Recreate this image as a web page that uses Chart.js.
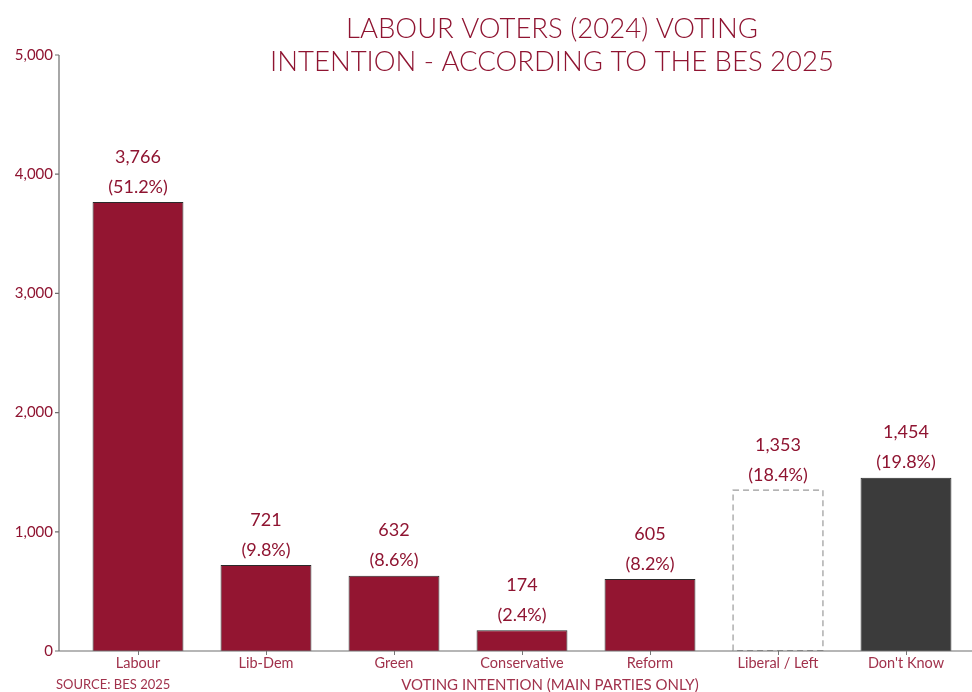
<!DOCTYPE html>
<html>
<head>
<meta charset="utf-8">
<script src="https://cdn.jsdelivr.net/npm/chart.js@4.4.1/dist/chart.umd.min.js"></script>
<style>
  html, body { margin: 0; padding: 0; background: #fff; }
  #wrap { width: 972px; height: 692px; }
</style>
</head>
<body>
<div id="wrap"><canvas id="besChart" width="972" height="692"></canvas></div>
<script>
// --- data ---
const parties = ["Labour", "Lib-Dem", "Green", "Conservative", "Reform", "Liberal / Left", "Don't Know"];
const voters = [3766, 721, 632, 174, 605, 1353, 1454];
const shares = [51.2, 9.8, 8.6, 2.4, 8.2, 18.4, 19.8]; // % as printed on the chart
const yTickValues = [0, 1000, 2000, 3000, 4000, 5000];
const titleLines = ["LABOUR VOTERS (2024) VOTING", "INTENTION - ACCORDING TO THE BES 2025"];
const xAxisTitle = "VOTING INTENTION (MAIN PARTIES ONLY)";
const sourceNote = "SOURCE: BES 2025";

const RED = "#8f1431";
const BAR_RED = "#931531";
const FONT = "Lato, 'Open Sans', sans-serif";

const barColours = parties.map(function (p) {
  if (p === "Liberal / Left") return "#ffffff";
  if (p === "Don't Know") return "#3b3b3b";
  return BAR_RED;
});
const borderWidths = parties.map(function (p) { return p === "Liberal / Left" ? 0 : 1; });

// axis lines, value labels, dashed bar, titles
const decorations = {
  id: "decorations",
  afterDatasetsDraw: function (chart) {
    const ctx = chart.ctx;
    const area = chart.chartArea;
    const y = chart.scales.y;
    const axisX = area.left - 15;
    const meta = chart.getDatasetMeta(0);

    ctx.save();
    // dashed outline for Liberal / Left
    meta.data.forEach(function (bar, i) {
      if (parties[i] !== "Liberal / Left") return;
      const half = bar.width / 2;
      ctx.setLineDash([6, 4]);
      ctx.strokeStyle = "#9a9a9a";
      ctx.lineWidth = 1.2;
      ctx.strokeRect(bar.x - half + 0.5, bar.y + 0.5, bar.width - 1, bar.base - bar.y - 1);
      ctx.setLineDash([]);
    });

    // axes
    ctx.strokeStyle = "#6e6e6e";
    ctx.lineWidth = 1.2;
    ctx.beginPath();
    ctx.moveTo(axisX, y.getPixelForValue(5000));
    ctx.lineTo(axisX, y.getPixelForValue(0));
    ctx.lineTo(chart.width, y.getPixelForValue(0));
    yTickValues.forEach(function (v) {
      const py = y.getPixelForValue(v);
      ctx.moveTo(axisX - 4, py);
      ctx.lineTo(axisX, py);
    });
    ctx.stroke();

    // value labels
    ctx.fillStyle = RED;
    ctx.textAlign = "center";
    ctx.textBaseline = "middle";
    ctx.font = "18px " + FONT;
    meta.data.forEach(function (bar, i) {
      ctx.fillText(voters[i].toLocaleString("en-US"), bar.x, bar.y - 45);
      ctx.fillText("(" + shares[i].toFixed(1) + "%)", bar.x, bar.y - 15);
    });

    // title
    ctx.textBaseline = "alphabetic";
    ctx.font = "300 27.5px " + FONT;
    ctx.fillText(titleLines[0], 552, 38);
    ctx.fillText(titleLines[1], 552, 71);

    // axis title and source
    ctx.fillStyle = "#a1324c";
    ctx.font = "15px " + FONT;
    ctx.fillText(xAxisTitle, 550, 690);
    ctx.textAlign = "left";
    ctx.font = "13px " + FONT;
    ctx.fillText(sourceNote, 56, 689);
    ctx.restore();
  }
};

new Chart(document.getElementById("besChart"), {
  type: "bar",
  data: {
    labels: parties,
    datasets: [{
      data: voters,
      backgroundColor: barColours,
      borderColor: "#2a2a2a",
      borderWidth: borderWidths,
      categoryPercentage: 1,
      barPercentage: 0.71
    }]
  },
  options: {
    responsive: false,
    animation: false,
    devicePixelRatio: 1,
    layout: { padding: { top: 55, right: 2, bottom: 0, left: 0 } },
    plugins: {
      legend: { display: false },
      title: { display: false },
      tooltip: { enabled: false }
    },
    scales: {
      x: {
        border: { display: false },
        grid: { offset: false, drawOnChartArea: false, drawTicks: true, tickLength: 4, color: "#777" },
        ticks: { color: "#a1324c", font: { family: FONT, size: 14.5 }, padding: 0, maxRotation: 0 },
        afterFit: function (scale) { scale.height = 41; }
      },
      y: {
        min: 0,
        max: 5000,
        border: { display: false },
        grid: { display: false, drawTicks: false },
        ticks: {
          stepSize: 1000,
          padding: 21,
          color: RED,
          font: { family: FONT, size: 15 },
          callback: function (v) { return v.toLocaleString("en-US"); }
        },
        afterFit: function (scale) { scale.width = 74; }
      }
    }
  },
  plugins: [decorations]
});
</script>
</body>
</html>
